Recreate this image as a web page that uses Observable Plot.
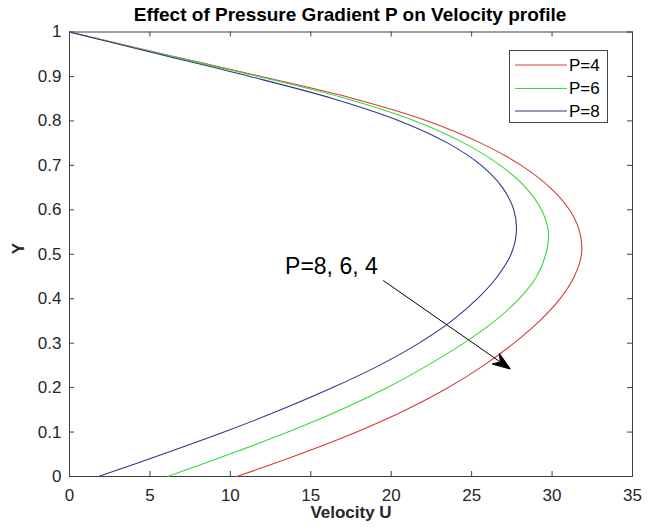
<!DOCTYPE html>
<html><head><meta charset="utf-8">
<script src="https://cdn.jsdelivr.net/npm/d3@7"></script>
<script src="https://cdn.jsdelivr.net/npm/@observablehq/plot@0.6"></script>
<style>
html,body{margin:0;padding:0;background:#fff;overflow:hidden;}
#wrap{position:relative;width:658px;height:530px;overflow:hidden;font-family:Arial,"Liberation Sans",Helvetica,sans-serif;}
#title{position:absolute;left:0;top:5px;width:700px;text-align:center;font-weight:bold;font-size:19px;line-height:20px;color:#000;}
#chart{position:absolute;left:0;top:0;}
#legend{position:absolute;left:509px;top:50px;width:97px;height:71px;border:1px solid #444;background:#fff;}
</style></head>
<body>
<div id="wrap"><div id="chart"></div><div id="title">Effect of Pressure Gradient P on Velocity profile</div><div id="legend"></div></div>
<script>
// ---- data ----
const yLevels = [0,0.05,0.1,0.15,0.2,0.25,0.3,0.35,0.4,0.45,0.5,0.55,0.6,0.65,0.7,0.75,0.8,0.85,0.9,0.95,1];
const uP4 = [10.4,14.3,17.85,20.93,23.55,25.75,27.63,29.23,30.5,31.38,31.83,31.72,31.08,29.88,28.08,25.58,22.25,17.68,11.93,5.88,0];
const uP6 = [6.1,9.93,13.58,16.88,19.76,22.26,24.51,26.44,27.96,29.04,29.61,29.77,29.34,28.36,26.78,24.53,21.48,17.23,11.73,5.78,0];
const uP8 = [1.8,5.78,9.6,13.13,16.36,19.26,21.73,23.76,25.36,26.6,27.45,27.78,27.62,26.92,25.6,23.52,20.52,16.39,11.21,5.58,0];
const seriesNames = ["P=4","P=6","P=8"];
const seriesColors = ["#d83a3a","#3ad83a","#34348f"];
const xTicks = [0,5,10,15,20,25,30,35];
const yTicks = [0,0.1,0.2,0.3,0.4,0.5,0.6,0.7,0.8,0.9,1];
const annotText = ["P=8, 6, 4"];
const annotTextPos = [13.4, 0.456];
const arrowFrom = [19.5, 0.441];
const arrowTo = [27.4, 0.242];

const W = 658, H = 530, mT = 31.5, mB = 54, mL = 69, mR = 26;
const innerH = H - mT - mB, innerW = W - mL - mR;

const seriesU = [uP4, uP6, uP8];
const rows = [];
seriesNames.forEach((name, s) => yLevels.forEach((y, i) => rows.push({P: name, U: seriesU[s][i], Y: y})));

function filledArrow(color, context) {
  const ns = "http://www.w3.org/2000/svg";
  const m = document.createElementNS(ns, "marker");
  m.setAttribute("viewBox", "-18 -7 18 14");
  m.setAttribute("markerWidth", "18");
  m.setAttribute("markerHeight", "14");
  m.setAttribute("markerUnits", "userSpaceOnUse");
  m.setAttribute("refX", "0");
  m.setAttribute("refY", "0");
  m.setAttribute("orient", "auto");
  const p = document.createElementNS(ns, "path");
  p.setAttribute("d", "M-18,-6.5L0,0L-18,6.5L-12,0Z");
  p.setAttribute("fill", "#000");
  m.appendChild(p);
  return m;
}

const tickColor = "#404040";
const plot = Plot.plot({
  width: W, height: H,
  marginTop: mT, marginBottom: mB, marginLeft: mL, marginRight: mR,
  x: {domain: [0, 35]},
  y: {domain: [0, 1]},
  color: {domain: seriesNames, range: seriesColors},
  style: {fontFamily: "Arial, 'Liberation Sans', Helvetica, sans-serif", fontSize: "17px", color: "#262626", background: "transparent"},
  marks: [
    Plot.frame({stroke: tickColor, strokeWidth: 1}),
    Plot.tickX(xTicks, {x: d => d, stroke: tickColor, insetTop: innerH - 5}),
    Plot.tickX(xTicks, {x: d => d, stroke: tickColor, insetBottom: innerH - 5}),
    Plot.tickY(yTicks, {y: d => d, stroke: tickColor, insetRight: innerW - 5}),
    Plot.tickY(yTicks, {y: d => d, stroke: tickColor, insetLeft: innerW - 5}),
    Plot.axisX(xTicks, {tickSize: 0, tickPadding: 12, label: null, tickFormat: d => String(d), fill: "#262626"}),
    Plot.axisY(yTicks, {tickSize: 0, tickPadding: 8, label: null, tickFormat: d => String(d), fill: "#262626"}),
    Plot.line(rows, {x: "U", y: "Y", z: "P", stroke: "P", strokeWidth: 1.1, curve: "catmull-rom"}),
    Plot.link([0], {x1: () => arrowFrom[0], y1: () => arrowFrom[1], x2: () => arrowTo[0], y2: () => arrowTo[1], stroke: "#000", strokeWidth: 1, markerEnd: filledArrow}),
    Plot.text(annotText, {x: () => annotTextPos[0], y: () => annotTextPos[1], text: d => d, textAnchor: "start", lineAnchor: "bottom", fontSize: 23, fill: "#000"}),
    Plot.text(["Velocity U"], {frameAnchor: "bottom", dy: 41.5, text: d => d, fontWeight: "bold", fontSize: 17, fill: "#262626"}),
    Plot.text(["Y"], {frameAnchor: "left", dx: -51, rotate: -90, text: d => d, fontWeight: "bold", fontSize: 17, fill: "#262626"})
  ]
});
document.getElementById("chart").appendChild(plot);

// legend
const ns = "http://www.w3.org/2000/svg";
const lg = document.createElementNS(ns, "svg");
lg.setAttribute("width", 97); lg.setAttribute("height", 71);
const rowY = [14, 37.5, 60];
seriesNames.forEach((name, i) => {
  const l = document.createElementNS(ns, "line");
  l.setAttribute("x1", 5); l.setAttribute("x2", 57);
  l.setAttribute("y1", rowY[i]); l.setAttribute("y2", rowY[i]);
  l.setAttribute("stroke", seriesColors[i]); l.setAttribute("stroke-width", 1.1);
  lg.appendChild(l);
  const t = document.createElementNS(ns, "text");
  t.setAttribute("x", 59); t.setAttribute("y", rowY[i]);
  t.setAttribute("dy", "0.35em");
  t.setAttribute("font-size", 17);
  t.setAttribute("font-family", "Arial, 'Liberation Sans', Helvetica, sans-serif");
  t.setAttribute("fill", "#000");
  t.textContent = name;
  lg.appendChild(t);
});
document.getElementById("legend").appendChild(lg);
</script>
</body></html>
